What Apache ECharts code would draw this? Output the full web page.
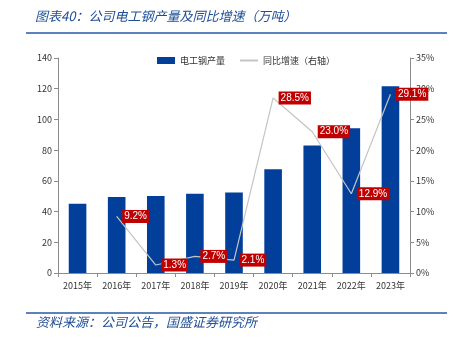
<!DOCTYPE html>
<html>
<head>
<meta charset="utf-8">
<script src="https://cdn.jsdelivr.net/npm/echarts@6/dist/echarts.min.js"></script>
<style>
  html, body { margin: 0; padding: 0; background: #fff; }
  #chart { width: 457px; height: 343px; }
</style>
</head>
<body>
<div id="chart"></div>
<script>
// Annual electrical steel output (10k tonnes) and YoY growth (%)
const years = ['2015年', '2016年', '2017年', '2018年', '2019年', '2020年', '2021年', '2022年', '2023年'];
const output = [45.1, 49.5, 50.1, 51.6, 52.5, 67.5, 83.1, 94.2, 121.6];
const growth = [null, 9.2, 1.3, 2.7, 2.1, 28.5, 23.0, 12.9, 29.1];
const leftTicks = [0, 20, 40, 60, 80, 100, 120, 140];
const rightTicks = [0, 5, 10, 15, 20, 25, 30, 35];

const FONT = '"Noto Sans CJK SC", "DejaVu Sans", sans-serif';
const NUM_FONT = '"Liberation Sans", "Noto Sans", sans-serif';
const AXIS_TXT = '#333';
const AXIS_LINE = '#8c8c8c';

const chart = echarts.init(document.getElementById('chart'), null, { renderer: 'canvas' });

chart.setOption({
  animation: false,
  textStyle: { fontFamily: FONT },
  grid: { left: 58, right: 47, top: 58, bottom: 70 },
  legend: {
    top: 51,
    left: 152,
    itemGap: 14,
    itemWidth: 18,
    itemHeight: 7,
    textStyle: { fontSize: 9, color: '#333', fontFamily: FONT },
    data: [
      { name: '电工钢产量', icon: 'rect' },
      { name: '同比增速（右轴）', itemStyle: { opacity: 0 } }
    ]
  },
  graphic: [
    {
      type: 'text', left: 35, top: 10,
      style: { text: '图表40：公司电工钢产量及同比增速（万吨）', fill: '#1f4e95',
        font: 'italic 13px ' + FONT }
    },
    {
      type: 'line', shape: { x1: 26, y1: 33, x2: 447, y2: 33 },
      style: { stroke: '#2558a8', lineWidth: 1.5 }
    },
    {
      type: 'line', shape: { x1: 26, y1: 313, x2: 447, y2: 313 },
      style: { stroke: '#2558a8', lineWidth: 1.5 }
    },
    {
      type: 'text', left: 36, top: 316,
      style: { text: '资料来源：公司公告，国盛证券研究所', fill: '#1f4e95',
        font: 'italic 13px ' + FONT }
    }
  ],
  xAxis: {
    type: 'category',
    data: years,
    axisLine: { lineStyle: { color: AXIS_LINE } },
    axisTick: { show: true, alignWithLabel: false, length: 4, lineStyle: { color: AXIS_LINE } },
    axisLabel: { color: AXIS_TXT, fontSize: 9, margin: 8, fontFamily: FONT }
  },
  yAxis: [
    {
      type: 'value', min: 0, max: 140, interval: 20,
      axisLine: { show: true, lineStyle: { color: AXIS_LINE } },
      axisTick: { show: true, length: 4, lineStyle: { color: AXIS_LINE } },
      splitLine: { show: false },
      axisLabel: { color: AXIS_TXT, fontSize: 9, margin: 6,
        formatter: v => leftTicks.includes(v) ? String(v) : '' }
    },
    {
      type: 'value', min: 0, max: 35, interval: 5, position: 'right',
      axisLine: { show: true, lineStyle: { color: AXIS_LINE } },
      axisTick: { show: true, length: 4, lineStyle: { color: AXIS_LINE } },
      splitLine: { show: false },
      axisLabel: { color: AXIS_TXT, fontSize: 9, margin: 6,
        formatter: v => rightTicks.includes(v) ? v + '%' : '' }
    }
  ],
  series: [
    {
      name: '电工钢产量',
      type: 'bar',
      data: output,
      barWidth: '45%',
      itemStyle: { color: '#013f9a' }
    },
    {
      name: '同比增速（右轴）',
      type: 'line',
      yAxisIndex: 1,
      data: growth,
      symbol: 'circle',
      symbolSize: 1,
      showSymbol: true,
      connectNulls: false,
      lineStyle: { color: '#c4c4c4', width: 1.2 },
      itemStyle: { color: 'rgba(0,0,0,0)' },
      label: {
        show: true,
        position: 'right',
        distance: 5,
        formatter: p => p.value.toFixed(1) + '%',
        color: '#fff',
        fontSize: 10,
        fontFamily: NUM_FONT,
        backgroundColor: '#c00000',
        padding: [2, 2, 1, 2]
      },
      labelLayout: { hideOverlap: false },
      z: 5
    }
  ]
});
</script>
</body>
</html>
